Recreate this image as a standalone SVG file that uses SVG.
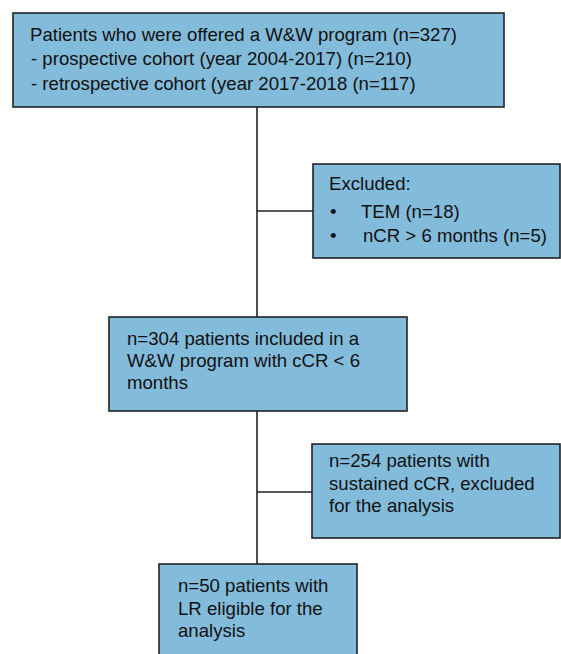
<svg xmlns="http://www.w3.org/2000/svg" width="561" height="654" viewBox="0 0 561 654">
<style>
.box{fill:#83bbdb;stroke:#222;stroke-width:1.6}
.t{font-family:"Liberation Sans",Arial,sans-serif;font-size:18.6px;fill:#111}
.c{stroke:#222;stroke-width:1.6;fill:none}
</style>
<rect width="561" height="654" fill="#fff"/>
<g id="connectors">
<line class="c" x1="257" y1="107" x2="257" y2="317"/>
<line class="c" x1="257" y1="211" x2="313" y2="211"/>
<line class="c" x1="257" y1="411" x2="257" y2="564"/>
<line class="c" x1="257" y1="492" x2="312" y2="492"/>
</g>
<g id="n1">
<rect class="box" x="13" y="13" width="491" height="94"/>
<text class="t" x="30" y="41">Patients who were offered a W&amp;W program (n=327)</text>
<text class="t" x="31" y="65">- prospective cohort (year 2004-2017) (n=210)</text>
<text class="t" x="31" y="90">- retrospective cohort (year 2017-2018 (n=117)</text>
</g>
<g id="n2">
<rect class="box" x="313" y="164" width="247" height="94"/>
<text class="t" x="329" y="190">Excluded:</text>
<text class="t" x="330" y="218">•</text>
<text class="t" x="361" y="218">TEM (n=18)</text>
<text class="t" x="330" y="242">•</text>
<text class="t" x="363" y="242">nCR &gt; 6 months (n=5)</text>
</g>
<g id="n3">
<rect class="box" x="109" y="317" width="298" height="94"/>
<text class="t" x="127" y="345">n=304 patients included in a</text>
<text class="t" x="127" y="367">W&amp;W program with cCR &lt; 6</text>
<text class="t" x="127" y="389">months</text>
</g>
<g id="n4">
<rect class="box" x="312" y="444" width="248" height="94"/>
<text class="t" x="329" y="467">n=254 patients with</text>
<text class="t" x="329" y="490">sustained cCR, excluded</text>
<text class="t" x="329" y="512">for the analysis</text>
</g>
<g id="n5">
<rect class="box" x="159" y="564" width="198" height="94"/>
<text class="t" x="178" y="592">n=50 patients with</text>
<text class="t" x="178" y="615">LR eligible for the</text>
<text class="t" x="178" y="637">analysis</text>
</g>
</svg>
